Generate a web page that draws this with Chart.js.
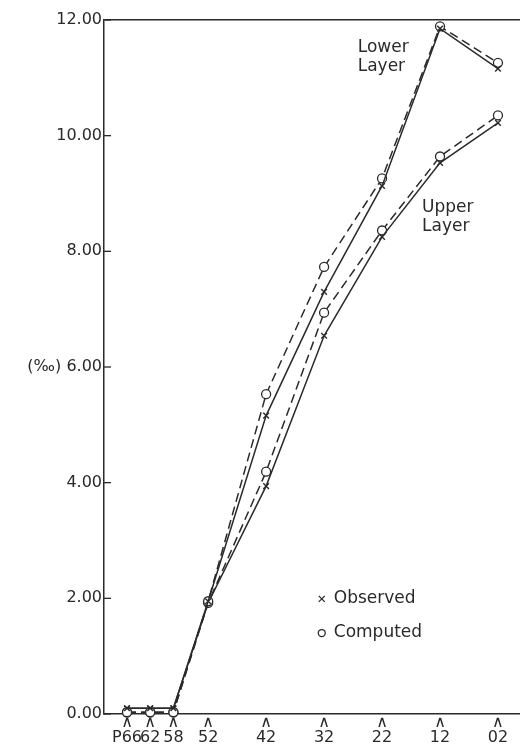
<!DOCTYPE html>
<html>
<head>
<meta charset="utf-8">
<script src="https://cdn.jsdelivr.net/npm/chart.js@4"></script>
<style>
  body { margin: 0; background: #fff; }
  canvas { display: block; }
</style>
</head>
<body>
<canvas id="chart" width="520" height="746"></canvas>
<script>
// stations along the section, placed by distance (units from P66)
let stations = ["P66", "62", "58", "52", "42", "32", "22", "12", "02"]
let stationPos = [0, 4, 8, 14, 24, 34, 44, 54, 64]

let yTicks = [0, 2, 4, 6, 8, 10, 12]

// values
let lowerObserved = [0.1, 0.1, 0.1, 1.95, 5.16, 7.30, 9.13, 11.85, 11.16]
let lowerComputed = [0.03, 0.03, 0.03, 1.95, 5.53, 7.73, 9.26, 11.89, 11.26]
let upperObserved = [0.1, 0.1, 0.1, 1.92, 3.94, 6.54, 8.25, 9.53, 10.22]
let upperComputed = [0.03, 0.03, 0.03, 1.92, 4.19, 6.94, 8.36, 9.64, 10.35]

let ink = "#2a2a2a"
let font = "DejaVu Sans"

function pts(vals) {
    return vals.map((v, i) => ({x: stationPos[i], y: v}))
}

function obsSet(vals) {
    return {
        data: pts(vals), borderColor: ink, borderWidth: 1.5, pointStyle: "crossRot",
        pointRadius: 4, pointBorderColor: ink, pointBorderWidth: 1.4, clip: false
    }
}
function compSet(vals) {
    return {
        data: pts(vals), borderColor: ink, borderWidth: 1.5, borderDash: [9, 5],
        pointStyle: "circle", pointRadius: 4.5, pointBackgroundColor: "#fff",
        pointBorderColor: ink, pointBorderWidth: 1.3, clip: false
    }
}

let extras = {
    id: "extras",
    afterDraw(chart) {
        let ctx = chart.ctx
        let xs = chart.scales.x, ys = chart.scales.y
        let area = chart.chartArea
        ctx.save()
        // short inward ticks on y axis
        ctx.strokeStyle = ink
        ctx.lineWidth = 1.3
        for (let v of yTicks) {
            let py = ys.getPixelForValue(v)
            ctx.beginPath()
            ctx.moveTo(area.left, py)
            ctx.lineTo(area.left + 7, py)
            ctx.stroke()
        }
        ctx.fillStyle = ink
        ctx.font = "17px '" + font + "'"
        ctx.textBaseline = "alphabetic"
        ctx.textAlign = "left"
        ctx.fillText("Lower", xs.getPixelForValue(39.8), ys.getPixelForValue(11.45))
        ctx.fillText("Layer", xs.getPixelForValue(39.8), ys.getPixelForValue(11.12))
        ctx.fillText("Upper", xs.getPixelForValue(50.9), ys.getPixelForValue(8.68))
        ctx.fillText("Layer", xs.getPixelForValue(50.9), ys.getPixelForValue(8.35))

        // legend
        ctx.textBaseline = "middle"
        let lx = xs.getPixelForValue(33.6)
        let ly1 = ys.getPixelForValue(1.99)
        let ly2 = ys.getPixelForValue(1.40)
        ctx.beginPath()
        ctx.moveTo(lx - 3, ly1 - 3); ctx.lineTo(lx + 3, ly1 + 3)
        ctx.moveTo(lx + 3, ly1 - 3); ctx.lineTo(lx - 3, ly1 + 3)
        ctx.stroke()
        ctx.beginPath()
        ctx.arc(lx, ly2, 3.5, 0, Math.PI * 2)
        ctx.stroke()
        ctx.fillText("Observed", lx + 12, ly1)
        ctx.fillText("Computed", lx + 12, ly2)
        ctx.restore()
    }
}

new Chart(document.getElementById("chart"), {
    type: "line",
    data: {
        datasets: [obsSet(lowerObserved), compSet(lowerComputed), obsSet(upperObserved), compSet(upperComputed)]
    },
    plugins: [extras],
    options: {
        responsive: false,
        animation: false,
        layout: {autoPadding: false, padding: {top: 20, right: 0, left: 0, bottom: 0}},
        plugins: {legend: {display: false}, tooltip: {enabled: false}},
        scales: {
            x: {
                type: "linear",
                min: -3.97,
                max: 67.8,
                afterBuildTicks: (scale) => {
                    scale.ticks = stationPos.map(v => ({value: v}))
                },
                afterFit: (scale) => {
                    scale.height = 32
                    scale.paddingRight = 0
                },
                ticks: {
                    color: ink,
                    font: {family: font, size: 16, lineHeight: 0.95},
                    padding: 1,
                    maxRotation: 0,
                    autoSkip: false,
                    callback: (v) => ["\u2227", stations[stationPos.indexOf(v)]]
                },
                grid: {color: "transparent", drawTicks: false},
                border: {display: true, color: ink, width: 1.5}
            },
            y: {
                min: 0,
                max: 12,
                afterBuildTicks: (scale) => {
                    scale.ticks = yTicks.map(v => ({value: v}))
                },
                afterFit: (scale) => { scale.width = 104 },
                ticks: {
                    color: ink,
                    font: {family: font, size: 16},
                    padding: 2,
                    callback: (v) => (v == 6 ? "(\u2030) " : "") + v.toFixed(2)
                },
                grid: {
                    drawTicks: false,
                    color: (c) => c.tick && c.tick.value == 12 ? ink : "transparent",
                    lineWidth: 1.5
                },
                border: {display: true, color: ink, width: 1.5}
            }
        }
    }
})
</script>
</body>
</html>
